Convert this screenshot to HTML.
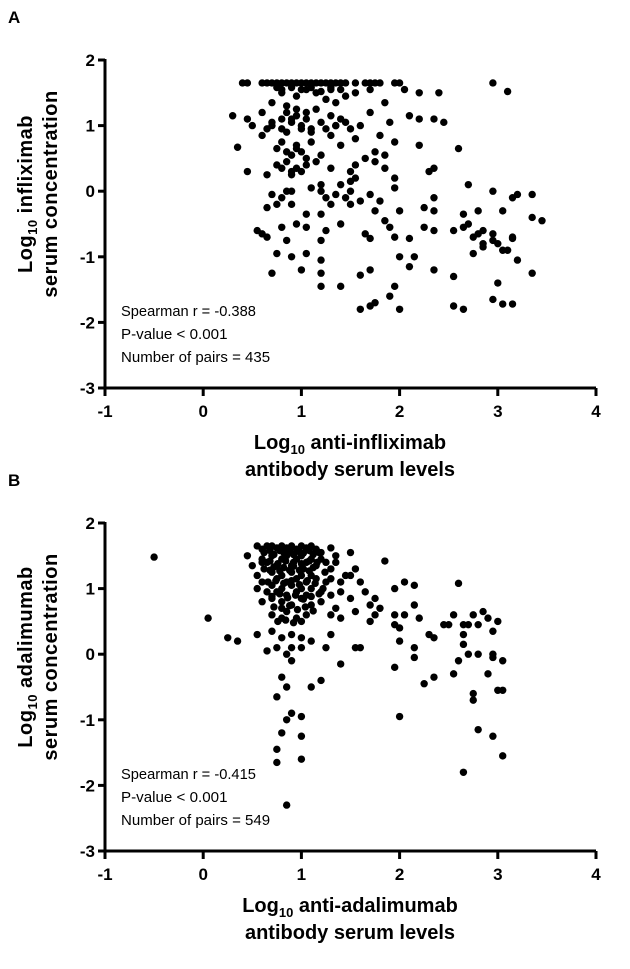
<!DOCTYPE html>
<html><head><meta charset="utf-8"><style>
body{margin:0;background:#fff;}
svg{display:block;font-family:"Liberation Sans",Arial,sans-serif;}
</style></head><body>
<svg id="chart" width="630" height="969">
<g id="pA"></g>
<g id="pB"></g>
</svg>
<script>
const xTicks=[-1,0,1,2,3,4];
const yTicks=[2,1,0,-1,-2,-3];
const aX=[0.4,0.45,0.6,0.65,0.7,0.75,0.8,0.85,0.9,0.95,1.0,1.05,1.1,1.15,1.2,1.25,1.3,1.35,1.4,1.45,1.55,1.65,1.7,1.75,1.8,1.95,2.0,
0.7,0.8,0.85,0.95,1.05,1.15,1.25,1.3,1.35,1.45,1.55,1.7,1.85,2.05,2.2,2.4,2.95,3.1,
0.3,0.45,0.5,0.6,0.65,0.7,0.8,0.85,0.9,0.95,1.0,1.05,1.1,1.2,1.3,1.35,1.4,1.45,1.5,1.6,1.7,1.8,1.9,2.1,2.2,2.35,2.45,
0.35,0.6,0.75,0.8,0.9,0.95,1.0,1.1,1.2,1.3,1.4,1.55,1.65,1.75,1.85,1.95,2.2,2.6,
0.45,0.65,0.75,0.85,0.9,0.95,1.05,1.15,1.3,1.5,1.55,1.75,1.85,1.95,2.3,2.35,2.7,
0.7,0.8,0.85,0.9,1.1,1.2,1.25,1.35,1.45,1.5,1.6,1.7,1.8,1.95,2.25,2.35,2.95,3.15,3.2,3.35,
0.65,0.75,0.9,1.05,1.2,1.3,1.5,1.75,1.85,2.0,2.35,2.65,2.7,2.8,3.05,3.35,
0.55,0.6,0.8,0.95,1.05,1.25,1.4,1.65,1.9,2.25,2.35,2.55,2.65,2.75,2.85,2.95,3.0,3.15,3.45,
0.65,0.85,1.2,1.7,1.95,2.1,2.8,2.85,2.95,3.05,3.15,
0.75,0.9,1.05,1.2,2.0,2.15,2.75,2.85,3.1,3.2,
0.7,1.0,1.2,1.6,1.7,2.1,2.35,2.55,3.0,3.35,
1.2,1.4,1.95,3.05,
1.6,1.7,1.75,1.9,2.0,2.55,2.65,2.95,3.15,
0.75,0.8,0.9,1.0,1.1,1.2,1.3,1.4,0.85,0.95,1.05,1.15,0.7,0.8,0.9,1.0,1.1,1.25,1.35,0.85,0.95,1.05,0.8,0.9,1.0,1.2,1.4,1.5,1.55];
const aY=[1.65,1.65,1.65,1.65,1.65,1.65,1.65,1.65,1.65,1.65,1.65,1.65,1.65,1.65,1.65,1.65,1.65,1.65,1.65,1.65,1.65,1.65,1.65,1.65,1.65,1.65,1.65,
1.35,1.5,1.3,1.45,1.55,1.5,1.4,1.55,1.35,1.45,1.5,1.55,1.35,1.55,1.5,1.5,1.65,1.52,
1.15,1.1,1.0,1.2,0.95,1.0,1.1,0.9,1.05,1.15,1.0,1.1,0.9,1.05,1.15,1.0,1.1,1.05,0.95,1.0,1.2,0.85,1.05,1.15,1.1,1.1,1.05,
0.67,0.85,0.65,0.75,0.55,0.7,0.6,0.75,0.55,0.85,0.7,0.8,0.5,0.6,0.55,0.75,0.7,0.65,
0.3,0.25,0.4,0.45,0.3,0.35,0.4,0.45,0.35,0.3,0.2,0.45,0.35,0.2,0.3,0.35,0.1,
-0.05,-0.1,0,0,0.05,0,-0.1,-0.05,-0.1,0,-0.15,-0.05,-0.15,0.05,-0.25,-0.1,0,-0.1,-0.05,-0.05,
-0.25,-0.2,-0.2,-0.35,-0.35,-0.2,-0.2,-0.3,-0.45,-0.3,-0.3,-0.35,-0.5,-0.3,-0.3,-0.4,
-0.6,-0.65,-0.55,-0.5,-0.55,-0.6,-0.5,-0.65,-0.55,-0.55,-0.6,-0.6,-0.55,-0.7,-0.6,-0.65,-0.8,-0.7,-0.45,
-0.7,-0.75,-0.75,-0.72,-0.7,-0.72,-0.65,-0.8,-0.75,-0.9,-0.72,
-0.95,-1.0,-0.95,-1.05,-1.0,-1.0,-0.95,-0.85,-0.9,-1.05,
-1.25,-1.2,-1.25,-1.28,-1.2,-1.15,-1.2,-1.3,-1.4,-1.25,
-1.45,-1.45,-1.45,-1.72,
-1.8,-1.75,-1.7,-1.6,-1.8,-1.75,-1.8,-1.65,-1.72,
1.58,1.55,1.58,1.55,1.58,1.52,1.58,1.55,1.2,1.25,1.2,1.25,1.05,0.95,1.1,0.95,0.95,0.95,1.0,0.6,0.65,0.5,0.35,0.25,0.3,0.1,0.1,0.15,0.4];
const bX=[-0.5,0.05,0.55,0.6,0.65,0.7,0.75,0.8,0.85,0.9,0.95,1.0,1.05,1.1,1.15,1.2,1.3,1.35,1.5,1.85,
0.45,0.5,0.6,0.65,0.7,0.75,0.8,0.85,0.9,0.95,1.0,1.05,1.1,1.15,1.2,1.25,1.3,1.35,1.45,1.55,
0.55,0.6,0.7,0.75,0.8,0.85,0.9,0.95,1.0,1.05,1.1,1.15,1.25,1.3,1.4,1.5,1.6,1.95,2.05,2.15,2.6,
0.55,0.65,0.7,0.75,0.8,0.85,0.9,0.95,1.0,1.05,1.1,1.2,1.3,1.4,1.5,1.65,1.75,1.8,2.15,2.75,2.9,3.0,
0.6,0.7,0.8,0.9,1.0,1.1,1.2,1.35,1.55,1.7,1.95,2.05,2.45,2.55,2.7,2.85,
0.35,0.7,0.8,0.85,0.95,1.05,1.3,1.4,1.7,1.75,1.95,2.0,2.2,2.3,2.5,2.65,2.8,2.95,
0.25,0.55,0.7,0.8,0.9,1.0,1.1,1.3,1.55,1.6,2.0,2.15,2.35,2.65,2.7,
0.65,0.75,0.85,0.9,1.0,1.25,1.95,2.15,2.65,2.8,2.95,
0.9,1.2,2.6,2.95,3.05,
0.8,0.85,1.1,1.4,2.25,2.35,2.55,2.75,2.9,3.0,
0.75,0.9,1.0,2.0,2.75,3.05,
0.85,0.8,0.75,1.0,2.8,2.95,
0.75,1.0,3.05,2.65,0.85,
0.62,0.68,0.72,0.78,0.82,0.88,0.92,0.98,1.02,1.08,1.12,1.18,0.62,0.68,0.72,0.78,0.82,0.88,0.92,0.98,1.02,1.08,1.12,0.66,0.74,0.82,0.9,0.98,1.06,1.14,1.22,0.7,0.78,0.86,0.94,1.02,1.1,1.18,0.72,0.8,0.88,0.96,1.04,1.12,0.76,0.84,0.92,1.0,0.6,0.68,0.76,0.84,0.92,1.0,1.08,1.16,1.24];
const bY=[1.48,0.55,1.65,1.6,1.65,1.65,1.62,1.65,1.62,1.65,1.6,1.65,1.62,1.65,1.6,1.55,1.62,1.5,1.55,1.42,
1.5,1.35,1.45,1.4,1.5,1.35,1.45,1.5,1.35,1.45,1.5,1.4,1.45,1.35,1.45,1.4,1.3,1.4,1.2,1.3,
1.2,1.1,1.25,1.15,1.2,1.1,1.25,1.15,1.2,1.1,1.2,1.15,1.1,1.15,1.1,1.2,1.1,1.0,1.1,1.05,1.08,
1.0,0.95,1.05,0.95,1.0,0.9,1.05,0.95,1.0,0.9,1.0,0.95,0.9,0.95,0.85,0.95,0.85,0.7,0.75,0.6,0.55,0.5,
0.8,0.85,0.8,0.75,0.85,0.75,0.8,0.7,0.65,0.75,0.45,0.6,0.45,0.6,0.45,0.65,
0.2,0.6,0.55,0.65,0.55,0.6,0.6,0.55,0.5,0.6,0.6,0.4,0.55,0.3,0.45,0.45,0.45,0.35,
0.25,0.3,0.35,0.25,0.3,0.25,0.2,0.3,0.1,0.1,0.2,0.1,0.25,0.3,0.0,
0.05,0.1,0.0,0.1,0.1,0.1,-0.2,-0.05,0.15,0.0,0.0,
-0.1,-0.4,-0.1,-0.05,-0.1,
-0.35,-0.5,-0.5,-0.15,-0.45,-0.35,-0.3,-0.6,-0.3,-0.55,
-0.65,-0.9,-0.95,-0.95,-0.7,-0.55,
-1.0,-1.2,-1.45,-1.25,-1.15,-1.25,
-1.65,-1.6,-1.55,-1.8,-2.3,
1.55,1.58,1.52,1.58,1.55,1.58,1.52,1.56,1.54,1.58,1.52,1.55,1.3,1.28,1.33,1.27,1.32,1.28,1.34,1.28,1.3,1.27,1.32,1.1,1.12,1.08,1.12,1.06,1.12,1.08,1.0,0.88,0.92,0.86,0.9,0.84,0.88,0.92,0.72,0.7,0.74,0.68,0.72,0.66,0.5,0.52,0.48,0.5,1.4,1.42,1.38,1.42,1.4,1.38,1.42,1.4,1.25];
const NS="http://www.w3.org/2000/svg";
function el(p,t,a,txt){const e=document.createElementNS(NS,t);for(const k in a)e.setAttribute(k,a[k]);if(txt!==undefined)e.textContent=txt;p.appendChild(e);return e;}
function panel(g,top,xs,ys,letter,yl1,xl1,stats){
 const x0=105,x1=596,y0=top,y1=top+328;
 const sx=v=>x0+(v+1)*(x1-x0)/5, sy=v=>y0+(2-v)*(y1-y0)/5;
 let t=el(g,'text',{x:8,y:top-37,'font-size':17,'font-weight':'bold'},letter);
 
 
 let ax=el(g,'path',{d:`M${x0},${y0-1}V${y1}H${x1}`,stroke:'#000','stroke-width':3,fill:'none'});
 
 
 yTicks.forEach(v=>{
  const tk=el(g,'line',{x1:x0-7,x2:x0,y1:sy(v),y2:sy(v),stroke:'#000','stroke-width':3});
  
  
  const lb=el(g,'text',{x:x0-10,y:sy(v)+6,'font-size':17,'font-weight':'bold','text-anchor':'end'},String(v));
  
  
 });
 xTicks.forEach(v=>{
  const tk=el(g,'line',{x1:sx(v),x2:sx(v),y1:y1,y2:y1+8,stroke:'#000','stroke-width':3});
  
  
  const lb=el(g,'text',{x:sx(v),y:y1+29,'font-size':17,'font-weight':'bold','text-anchor':'middle'},String(v));
  
  
 });
 const yt=el(g,'text',{transform:`translate(32,${(y0+y1)/2-30}) rotate(-90)`,'font-size':20,'font-weight':'bold','text-anchor':'middle','letter-spacing':'0.5'});
 
 
 yt.innerHTML=`<tspan x="0" y="0">Log<tspan font-size="13" dy="5">10</tspan><tspan dy="-5"> ${yl1}</tspan></tspan><tspan x="0" dy="25">serum concentration</tspan>`;
 const xt=el(g,'text',{x:350,y:y1+61,'font-size':20,'font-weight':'bold','text-anchor':'middle'});
 
 
 xt.innerHTML=`<tspan>Log<tspan font-size="13" dy="5">10</tspan><tspan dy="-5"> ${xl1}</tspan></tspan><tspan x="350" dy="27">antibody serum levels</tspan>`;
 stats.forEach((s,i)=>{
  const st=el(g,'text',{x:121,y:y1-72+i*23,'font-size':15,'textLength':s.length*7.1,'lengthAdjust':'spacingAndGlyphs'},s);
  
  
 });
 xs.forEach((v,i)=>{
  const c=el(g,'circle',{cx:sx(v),cy:sy(ys[i]),r:3.7,fill:'#000'});
  
  
 });
}
panel(document.getElementById('pA'),60,aX,aY,'A','infliximab','anti-infliximab',['Spearman r = -0.388','P-value < 0.001','Number of pairs = 435']);
panel(document.getElementById('pB'),523,bX,bY,'B','adalimumab','anti-adalimumab',['Spearman r = -0.415','P-value < 0.001','Number of pairs = 549']);
</script>
</body></html>
